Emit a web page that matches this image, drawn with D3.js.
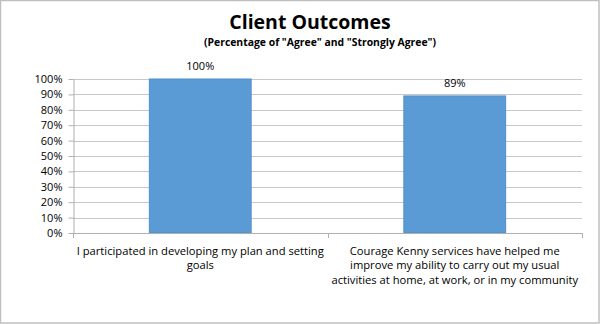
<!DOCTYPE html>
<html><head><meta charset="utf-8">
<script src="https://cdn.jsdelivr.net/npm/d3@7"></script>
<style>body{margin:0;background:#fff}svg{display:block}</style>
</head><body>
<script>
const categories = [
  ["I participated in developing my plan and setting", "goals"],
  ["Courage Kenny services have helped me", "improve my ability to carry out my usual", "activities at home, at work, or in my community"]
];
const values = [100, 89];
const valueLabels = ["100%", "89%"];
const yTicks = [0,10,20,30,40,50,60,70,80,90,100];
const title = "Client Outcomes";
const subtitle = '(Percentage of "Agree" and "Strongly Agree")';

(function(){
const W = 600, H = 324;
const font = "'Open Sans', sans-serif";
const svg = d3.select("body").append("svg").attr("width", W).attr("height", H);
svg.append("rect").attr("x",0.5).attr("y",0.5).attr("width",W-1.5).attr("height",H-1.5)
  .attr("fill","#fff").attr("stroke","#bfbfbf").attr("stroke-width",1.5);

const pL = 73, pR = 582, pT = 79, pB = 233;
const x = d3.scaleBand().domain(d3.range(values.length)).range([pL, pR]).paddingInner(0.6).paddingOuter(0.3);
const xb = d3.scaleBand().domain(d3.range(values.length)).range([pL, pR]);
const y = d3.scaleLinear().domain([0, 100]).range([pB, pT]);

// gridlines
svg.append("g").selectAll("line").data(yTicks.slice(1)).join("line")
  .attr("x1", pL).attr("x2", pR).attr("y1", d => Math.round(y(d))+0.5).attr("y2", d => Math.round(y(d))+0.5)
  .attr("stroke", "#c8c8c8").attr("stroke-width", 1);

// y axis
const ya = svg.append("g").attr("transform", `translate(${pL+0.5},0)`)
  .call(d3.axisLeft(y).tickValues(yTicks).tickFormat(d => d + "%").tickSize(5).tickSizeOuter(0));
ya.select(".domain").attr("stroke", "#b0b0b0");
ya.selectAll(".tick line").attr("stroke", "#b0b0b0");
ya.selectAll(".tick text").attr("font-family", font).attr("font-size", 11).attr("fill", "#000").attr("x", -11);

// bars
svg.append("g").selectAll("rect").data(values).join("rect")
  .attr("x", (d,i) => x(i)).attr("width", x.bandwidth())
  .attr("y", d => y(d)).attr("height", d => pB - y(d))
  .attr("fill", "#5b9bd5").attr("stroke", "#4f8fcb").attr("stroke-width", 1);

// x axis
svg.append("line").attr("x1", pL).attr("x2", pR).attr("y1", pB+0.5).attr("y2", pB+0.5).attr("stroke", "#b0b0b0");
svg.append("g").selectAll("line").data(d3.range(values.length+1)).join("line")
  .attr("x1", i => Math.round(i < values.length ? xb(i) : pR)+0.5)
  .attr("x2", i => Math.round(i < values.length ? xb(i) : pR)+0.5)
  .attr("y1", pB).attr("y2", pB+5).attr("stroke", "#b0b0b0");

// value labels
svg.append("g").selectAll("text").data(values).join("text")
  .attr("x", (d,i) => x(i) + x.bandwidth()/2).attr("y", d => y(d) - 9)
  .attr("text-anchor", "middle").attr("font-family", font).attr("font-size", 11).attr("fill", "#000")
  .text((d,i) => valueLabels[i]);

// category labels
categories.forEach((lines, i) => {
  const t = svg.append("text").attr("text-anchor", "middle").attr("font-family", font)
    .attr("font-size", 11.2).attr("fill", "#000");
  lines.forEach((ln, j) => {
    t.append("tspan").attr("x", xb(i) + xb.bandwidth()/2).attr("y", 254.5 + j*14.5).text(ln);
  });
});

// titles
svg.append("text").attr("x", 310).attr("y", 29).attr("text-anchor", "middle")
  .attr("font-family", font).attr("font-weight", "bold").attr("font-size", 19.5).text(title);
svg.append("text").attr("x", 320).attr("y", 45.5).attr("text-anchor", "middle")
  .attr("font-family", font).attr("font-weight", "bold").attr("font-size", 10.4).text(subtitle);
})();
</script>
</body></html>
